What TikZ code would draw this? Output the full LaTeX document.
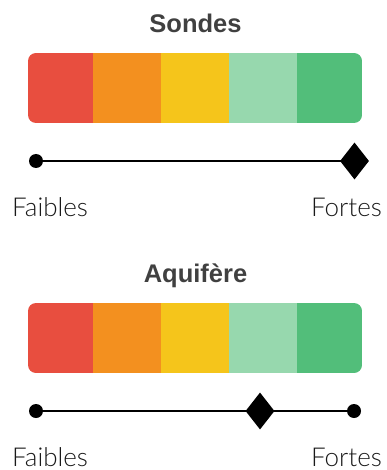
\documentclass[tikz,border=0pt]{standalone}
\usepackage{fontspec}
\setmainfont{Lato Light}
\newfontfamily\titlefont{Liberation Sans}
\usetikzlibrary{shapes.geometric}
\definecolor{cred}{HTML}{E84E3F}
\definecolor{corange}{HTML}{F3901F}
\definecolor{cyellow}{HTML}{F5C51B}
\definecolor{clgreen}{HTML}{97D8AE}
\definecolor{cgreen}{HTML}{52BE7A}
\definecolor{ctitle}{HTML}{404040}
\tikzset{
  titletext/.style={font=\titlefont\bfseries\fontsize{25.5}{28}\selectfont, text=ctitle, anchor=base, inner sep=0},
  endlabel/.style={font=\fontsize{26}{30}\selectfont, text=black!90, inner sep=0},
  seg/.style={inner sep=0, outer sep=0, minimum height=70.5pt, anchor=north west},
  enddot/.style={circle, fill=black, inner sep=0, minimum size=14pt},
  marker/.style={diamond, fill=black, inner sep=0, minimum width=29pt, minimum height=37pt},
  scaleline/.style={line width=2pt, black}
}
\begin{document}
\begin{tikzpicture}[x=1pt, y=-1pt]
\useasboundingbox (0,0) rectangle (387,470);
\foreach \off/\ttl/\dx/\last in {0/Sondes/354.5/1, 250/Aquif\`ere/260/0}{
  \begin{scope}[yshift=-\off pt]
    \node[titletext] (title) at (195.5,32.7) {\ttl};
    \begin{scope}
      \clip[rounded corners=8pt] (28,53) rectangle (362,123);
      \node[seg, fill=cred, minimum width=65.5pt] (s1) at (27.5,52.75) {};
      \node[seg, fill=corange, minimum width=68.5pt] (s2) at (93,52.75) {};
      \node[seg, fill=cyellow, minimum width=68.5pt] (s3) at (161,52.75) {};
      \node[seg, fill=clgreen, minimum width=68.5pt] (s4) at (229,52.75) {};
      \node[seg, fill=cgreen, minimum width=66pt] (s5) at (297,52.75) {};
    \end{scope}
    \node[enddot] (d1) at (36,161) {};
    \ifnum\last=0
      \node[enddot] (d2) at (354,161) {};
      \draw[scaleline] (d1) -- (d2);
    \else
      \coordinate (d2) at (354.5,161);
      \draw[scaleline] (d1) -- (d2);
    \fi
    \node[marker] (m) at (\dx,161) {};
    \node[endlabel, anchor=base west] (lo) at (12,216) {Faibles};
    \node[endlabel, anchor=base east] (hi) at (382,216) {Fortes};
  \end{scope}
}
\end{tikzpicture}
\end{document}
